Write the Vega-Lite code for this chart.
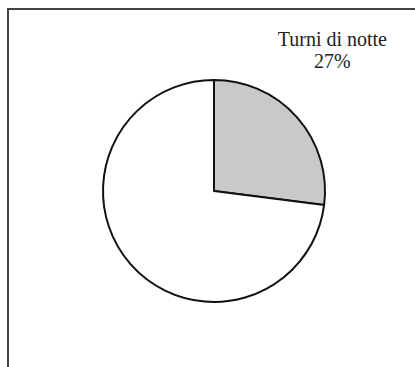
{
  "$schema": "https://vega.github.io/schema/vega-lite/v6.json",
  "autosize": "none",
  "padding": {"left": 8, "top": 9, "right": 0, "bottom": 0},
  "width": 408,
  "height": 359,
  "background": "white",
  "view": {"stroke": "#444", "strokeWidth": 2, "fill": "white"},
  "data": {"values": [
    {"categoria": "Turni di notte", "percentuale": 27, "ordine": 1},
    {"categoria": "Altro", "percentuale": 73, "ordine": 2}
  ]},
  "layer": [
    {
      "mark": {"type": "arc", "outerRadius": 111, "stroke": "#111", "strokeWidth": 2, "xOffset": 2, "yOffset": 2.5, "strokeJoin": "round"},
      "encoding": {
        "theta": {"field": "percentuale", "type": "quantitative", "stack": true, "scale": {"domain": [0, 100]}},
        "order": {"field": "ordine", "type": "quantitative"},
        "color": {"field": "categoria", "type": "nominal", "scale": {"domain": ["Turni di notte", "Altro"], "range": ["#c9c9c9", "#ffffff"]}, "legend": null}
      }
    },
    {
      "transform": [
        {"filter": "datum.categoria === 'Turni di notte'"},
        {"calculate": "datum.categoria + '\\n' + datum.percentuale + '%'", "as": "etichetta"}
      ],
      "mark": {"type": "text", "radius": 187, "thetaOffset": -0.163, "xOffset": 2, "yOffset": 2.5, "font": "Liberation Serif", "fontSize": 20, "lineBreak": "\n", "lineHeight": 21.7, "align": "center", "baseline": "alphabetic", "color": "#222"},
      "encoding": {
        "theta": {"field": "percentuale", "type": "quantitative", "stack": true},
        "text": {"field": "etichetta"}
      }
    }
  ]
}
